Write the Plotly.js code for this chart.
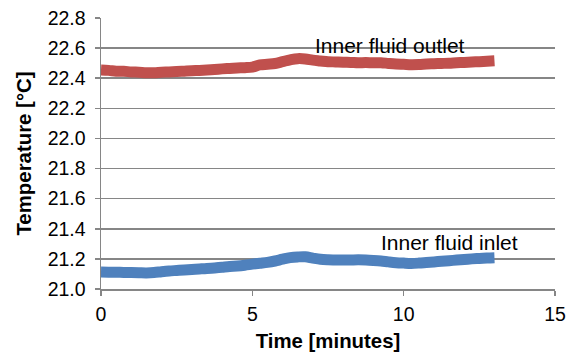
<!DOCTYPE html>
<html>
<head>
<meta charset="utf-8">
<script src="https://cdn.plot.ly/plotly-3.0.1.min.js"></script>
<style>html,body{margin:0;padding:0;background:#fff;}#chart{width:573px;height:354px;}</style>
</head>
<body>
<div id="chart"></div>
<script>
const time = [0,0.25,0.5,0.75,1,1.25,1.5,1.75,2,2.25,2.5,2.75,3,3.25,3.5,3.75,4,4.25,4.5,4.75,5,5.25,5.5,5.75,6,6.25,6.5,6.75,7,7.25,7.5,7.75,8,8.25,8.5,8.75,9,9.25,9.5,9.75,10,10.25,10.5,10.75,11,11.25,11.5,11.75,12,12.25,12.5,12.75,13];
const outlet = [22.455,22.452,22.447,22.446,22.442,22.440,22.437,22.436,22.440,22.442,22.445,22.447,22.449,22.452,22.455,22.458,22.462,22.465,22.468,22.470,22.474,22.488,22.493,22.498,22.510,22.522,22.530,22.528,22.520,22.515,22.510,22.508,22.506,22.505,22.503,22.504,22.502,22.503,22.498,22.494,22.492,22.490,22.491,22.494,22.496,22.498,22.500,22.503,22.505,22.508,22.510,22.513,22.516];
const inlet = [21.113,21.112,21.111,21.110,21.109,21.108,21.107,21.109,21.115,21.120,21.123,21.126,21.130,21.133,21.136,21.140,21.145,21.150,21.153,21.158,21.165,21.171,21.177,21.186,21.198,21.208,21.213,21.214,21.205,21.197,21.194,21.193,21.192,21.193,21.194,21.193,21.190,21.186,21.180,21.175,21.172,21.170,21.172,21.176,21.180,21.184,21.188,21.192,21.196,21.200,21.203,21.206,21.208];
const seriesNames = ["Inner fluid outlet","Inner fluid inlet"];
const xTitle = "Time [minutes]";
const yTitle = "Temperature [°C]";

const font = "Liberation Sans, Arial, sans-serif";
const traces = [
  {x: time, y: outlet, name: seriesNames[0], mode: "lines", line: {color: "#C0504D", width: 11, shape: "spline"}},
  {x: time, y: inlet, name: seriesNames[1], mode: "lines", line: {color: "#4F81BD", width: 11, shape: "spline"}}
];
const layout = {
  width: 573, height: 354,
  margin: {l: 101, r: 18, t: 18, b: 65},
  paper_bgcolor: "#fff", plot_bgcolor: "#fff",
  showlegend: false,
  font: {family: font, size: 19, color: "#000"},
  xaxis: {
    range: [0, 15], dtick: 5, tick0: 0,
    showgrid: false, zeroline: false,
    showline: true, linecolor: "#868686", linewidth: 1.5,
    ticks: "outside", ticklen: 5, tickcolor: "#868686", tickwidth: 1.5,
    tickfont: {family: font, size: 19.5},
    ticklabelstandoff: 2,
    title: {text: "<b>" + xTitle + "</b>", font: {family: font, size: 20.4}, standoff: 10}
  },
  yaxis: {
    range: [21.0, 22.8], dtick: 0.2, tick0: 21.0, tickformat: ".1f",
    showgrid: true, gridcolor: "#868686", gridwidth: 1.5,
    zeroline: false,
    showline: true, linecolor: "#868686", linewidth: 1.5,
    ticks: "outside", ticklen: 5, tickcolor: "#868686", tickwidth: 1.5,
    tickfont: {family: font, size: 19.5},
    ticklabelstandoff: 5,
    title: {text: "<b>" + yTitle + "</b>", font: {family: font, size: 20.4}, standoff: 10}
  },
  annotations: [
    {x: 7.05, y: 22.615, xref: "x", yref: "y", text: seriesNames[0], showarrow: false, xanchor: "left", yanchor: "middle", xshift: -1, font: {family: font, size: 21, color: "#000"}},
    {x: 9.22, y: 21.31, xref: "x", yref: "y", text: seriesNames[1], showarrow: false, xanchor: "left", yanchor: "middle", xshift: -1, font: {family: font, size: 21, color: "#000"}}
  ]
};
Plotly.newPlot("chart", traces, layout, {displayModeBar: false, staticPlot: true});
</script>
</body>
</html>
